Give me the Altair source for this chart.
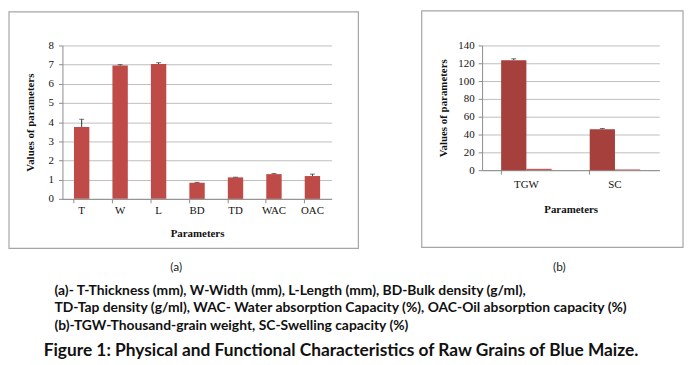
import altair as alt
import pandas as pd

# ---------------- data ----------------
params_a = ["T", "W", "L", "BD", "TD", "WAC", "OAC"]
values_a = [3.75, 6.95, 7.03, 0.84, 1.12, 1.29, 1.19]
errors_a = [0.40, 0.05, 0.07, 0.02, 0.01, 0.03, 0.10]
y_ticks_a = [0, 1, 2, 3, 4, 5, 6, 7, 8]

params_b = ["TGW", "SC"]
series_b = ["Mean", "SD"]
mean_b = [123.5, 46.0]
sd_b = [1.5, 0.8]
y_ticks_b = [0, 20, 40, 60, 80, 100, 120, 140]

panel_labels = ["(a)", "(b)"]
caption_lines = [
    "(a)- T-Thickness (mm), W-Width (mm), L-Length (mm), BD-Bulk density (g/ml),",
    "TD-Tap density (g/ml), WAC- Water absorption Capacity (%),  OAC-Oil absorption capacity (%)",
    "(b)-TGW-Thousand-grain weight, SC-Swelling capacity (%)",
]
figure_title = "Figure 1: Physical and Functional Characteristics of Raw Grains of Blue Maize."

# ---------------- styles ----------------
SERIF = "Liberation Serif"
TXT = "Lato"
GRID = "#BDBDBD"
AXIS = "#8C8C8C"
FRAME = "#A6A6A6"
RED = "#BE4B48"
DARK_RED = "#A5403D"
ERR = "#333333"

one_row = pd.DataFrame({"k": [0]})


def frame(x0, x1, y0, y1):
    return alt.Chart(one_row).mark_rect(fill=None, stroke=FRAME, strokeWidth=1.2).encode(
        x=alt.value(x0), x2=alt.value(x1), y=alt.value(y0), y2=alt.value(y1)
    )


def x_axis(label_pad, title_pad):
    return alt.Axis(title="Parameters", labelAngle=0, bandPosition=0, ticks=True, tickSize=4,
                    labelPadding=label_pad, titlePadding=title_pad, domainColor=AXIS, tickColor=AXIS,
                    grid=False, labelFont=SERIF, labelFontSize=11, labelColor="#111",
                    titleFont=SERIF, titleFontSize=11, titleFontWeight="bold", titleColor="#111")


def y_axis(title, values, label_pad, title_pad):
    return alt.Axis(title=title, values=values, grid=True, labelOverlap=False, tickSize=4,
                    labelPadding=label_pad, titlePadding=title_pad, domainColor=AXIS, tickColor=AXIS,
                    gridColor=GRID, gridWidth=1, labelFont=SERIF, labelFontSize=11, labelColor="#111",
                    titleFont=SERIF, titleFontSize=11, titleFontWeight="bold", titleColor="#111")


# ---------------- chart (a) ----------------
df_a = pd.DataFrame({"param": params_a, "value": values_a, "err": errors_a})
df_a["top"] = df_a["value"] + df_a["err"]

ax_a = x_axis(2, 12)
ay_a = y_axis("Values of parameters", y_ticks_a, 5, 13)
xs_a = alt.Scale(paddingInner=0.6, paddingOuter=0.3)
ys_a = alt.Scale(domain=[0, 8], nice=False, zero=True)

base_a = alt.Chart(df_a)
bars_a = base_a.mark_bar(color=RED).encode(
    x=alt.X("param:N", sort=params_a, scale=xs_a, axis=ax_a),
    y=alt.Y("value:Q", scale=ys_a, axis=ay_a),
)
err_a = base_a.mark_rule(color=ERR, strokeWidth=1).encode(
    x=alt.X("param:N", sort=params_a, scale=xs_a, axis=ax_a),
    y=alt.Y("value:Q", scale=ys_a, axis=ay_a), y2="top:Q")
cap_a = base_a.mark_tick(color=ERR, thickness=1, size=5).encode(
    x=alt.X("param:N", sort=params_a, scale=xs_a, axis=ax_a),
    y=alt.Y("top:Q", scale=ys_a, axis=ay_a))

chart_a = alt.layer(bars_a, err_a, cap_a, frame(-54, 299, -34, 205)).properties(width=272, height=155)

# ---------------- chart (b) ----------------
rows = []
for p, m, s in zip(params_b, mean_b, sd_b):
    rows.append({"param": p, "series": series_b[0], "value": m, "top": m + s})
    rows.append({"param": p, "series": series_b[1], "value": s, "top": s})
df_b = pd.DataFrame(rows)

ax_b = x_axis(5, 14)
ay_b = y_axis("Values of  parameters", y_ticks_b, 4, 9)
xs_b = alt.Scale(paddingInner=0.43, paddingOuter=0.215)
ys_b = alt.Scale(domain=[0, 140], nice=False, zero=True)
xoff = alt.XOffset("series:N", sort=series_b, scale=alt.Scale(paddingInner=0, paddingOuter=0))

base_b = alt.Chart(df_b)
bars_b = base_b.mark_bar().encode(
    x=alt.X("param:N", sort=params_b, scale=xs_b, axis=ax_b),
    y=alt.Y("value:Q", scale=ys_b, axis=ay_b),
    xOffset=xoff,
    color=alt.Color("series:N", sort=series_b,
                    scale=alt.Scale(domain=series_b, range=[DARK_RED, "#C55A57"]), legend=None),
)
err_src = base_b.transform_filter(alt.datum.series == series_b[0])
err_b = err_src.mark_rule(color=ERR, strokeWidth=1).encode(
    x=alt.X("param:N", sort=params_b, scale=xs_b, axis=ax_b), xOffset=xoff,
    y=alt.Y("value:Q", scale=ys_b, axis=ay_b), y2="top:Q")
cap_b = err_src.mark_tick(color=ERR, thickness=1, size=5).encode(
    x=alt.X("param:N", sort=params_b, scale=xs_b, axis=ax_b), xOffset=xoff,
    y=alt.Y("top:Q", scale=ys_b, axis=ay_b))

chart_b = alt.layer(bars_b, err_b, cap_b, frame(-61, 203, -35, 204)).properties(width=179, height=126)

# ---------------- caption text ----------------
DX = -54
DY = -1
text_layers = [
    alt.Chart(one_row).mark_text(text=panel_labels[0], font=TXT, fontSize=12, color="#222",
                                 align="center", baseline="middle").encode(x=alt.value(169 + DX), y=alt.value(19 + DY)),
    alt.Chart(one_row).mark_text(text=panel_labels[1], font=TXT, fontSize=12, color="#222",
                                 align="center", baseline="middle").encode(x=alt.value(556 + DX), y=alt.value(19 + DY)),
]
for i, line in enumerate(caption_lines):
    text_layers.append(
        alt.Chart(one_row).mark_text(text=line, font=TXT, fontSize=14, fontWeight="bold", color="#111",
                                     align="left", baseline="middle").encode(
            x=alt.value(46 + DX), y=alt.value(43 + 17.5 * i + DY))
    )
text_layers.append(
    alt.Chart(one_row).mark_text(text=figure_title, font=TXT, fontSize=17.5, fontWeight="bold", color="#111",
                                 align="left", baseline="middle").encode(x=alt.value(35 + DX), y=alt.value(104 + DY))
)
caption = alt.layer(*text_layers).properties(width=560, height=100)

top = alt.hconcat(chart_a, chart_b, spacing=62)
chart = alt.vconcat(top, caption, spacing=0).properties(
    padding={"left": 0, "top": 0, "right": 0, "bottom": 0}, background="white"
).configure_view(stroke=None)

chart.save("out.html", embed_options={"renderer": "svg", "actions": False})
